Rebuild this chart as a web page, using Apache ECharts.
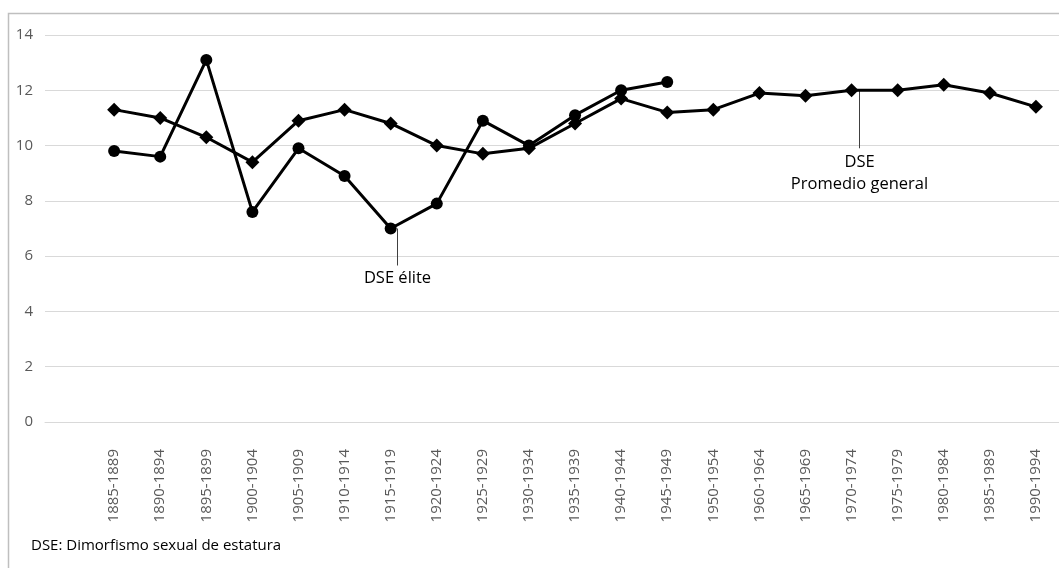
<!DOCTYPE html>
<html>
<head>
<meta charset="utf-8">
<script src="https://cdn.jsdelivr.net/npm/echarts@6/dist/echarts.min.js"></script>
<style>
  html, body { margin: 0; padding: 0; background: #fff; }
  #chart { width: 1059px; height: 568px; }
</style>
</head>
<body>
<div id="chart"></div>
<script>
// Five-year birth cohorts (1955-1959 is not part of the series)
const periods = [
  '1885-1889', '1890-1894', '1895-1899', '1900-1904', '1905-1909',
  '1910-1914', '1915-1919', '1920-1924', '1925-1929', '1930-1934',
  '1935-1939', '1940-1944', '1945-1949', '1950-1954', '1960-1964',
  '1965-1969', '1970-1974', '1975-1979', '1980-1984', '1985-1989',
  '1990-1994'
];

// Sexual stature dimorphism, general average
const dsePromedio = [
  11.3, 11.0, 10.3, 9.4, 10.9, 11.3, 10.8, 10.0, 9.7, 9.9,
  10.8, 11.7, 11.2, 11.3, 11.9, 11.8, 12.0, 12.0, 12.2, 11.9,
  11.4
];

// Sexual stature dimorphism, elite group
const dseElite = [
  9.8, 9.6, 13.1, 7.6, 9.9, 8.9, 7.0, 7.9, 10.9, 10.0,
  11.1, 12.0, 12.3, null, null, null, null, null, null, null,
  null
];

const yTicks = { min: 0, max: 14, interval: 2 };

// One empty slot ahead of the first cohort leaves room at the left of the plot
const axisData = [''].concat(periods);
const padded = arr => [null].concat(arr);

const FONT = '"Open Sans", "Noto Sans", sans-serif';

const chart = echarts.init(document.getElementById('chart'), null, { renderer: 'canvas' });

const option = {
  animation: false,
  backgroundColor: '#ffffff',
  grid: { left: 45, right: -3.5, top: 35, bottom: 146, containLabel: false },
  xAxis: {
    type: 'category',
    data: axisData,
    boundaryGap: true,
    axisLine: { show: true, lineStyle: { color: '#d9d9d9', width: 1 } },
    axisTick: { show: false },
    axisLabel: {
      rotate: 90,
      interval: 0,
      margin: 27,
      color: '#595959',
      fontFamily: FONT,
      fontSize: 15
    },
    splitLine: { show: false }
  },
  yAxis: {
    type: 'value',
    min: yTicks.min,
    max: yTicks.max,
    interval: yTicks.interval,
    axisLine: { show: false },
    axisTick: { show: false },
    axisLabel: { margin: 12, color: '#595959', fontFamily: FONT, fontSize: 15 },
    splitLine: { show: true, lineStyle: { color: '#d9d9d9', width: 1 } }
  },
  series: [
    {
      name: 'DSE Promedio general',
      type: 'line',
      data: padded(dsePromedio),
      symbol: 'diamond',
      symbolSize: 14,
      connectNulls: false,
      lineStyle: { color: '#000', width: 3 },
      itemStyle: { color: '#000' },
      z: 3
    },
    {
      name: 'DSE élite',
      type: 'line',
      data: padded(dseElite),
      symbol: 'circle',
      symbolSize: 12,
      connectNulls: false,
      lineStyle: { color: '#000', width: 3 },
      itemStyle: { color: '#000' },
      z: 4
    }
  ]
};

chart.setOption(option);

// Callout lines and labels anchored on data points
const elitePt = chart.convertToPixel({ seriesIndex: 1 }, [periods.indexOf('1915-1919') + 1, dseElite[6]]);
const promPt = chart.convertToPixel({ seriesIndex: 0 }, [periods.indexOf('1970-1974') + 1, dsePromedio[16]]);

const ex = Math.round(elitePt[0] + 6) + 0.5;
const px = Math.round(promPt[0] + 7.5) + 0.5;
const NOTE_FONT = '16.5px ' + FONT;

chart.setOption({
  graphic: [
    {
      type: 'rect',
      silent: true,
      shape: { x: 8.5, y: 13.5, width: 1200, height: 700 },
      style: { fill: 'none', stroke: '#bfbfbf', lineWidth: 1.5 },
      z: -10
    },
    {
      type: 'line',
      silent: true,
      shape: { x1: ex, y1: elitePt[1], x2: ex, y2: elitePt[1] + 37 },
      style: { stroke: '#404040', lineWidth: 1 },
      z: 1
    },
    {
      type: 'text',
      silent: true,
      x: ex,
      y: elitePt[1] + 50,
      style: {
        text: 'DSE élite', fill: '#000', font: NOTE_FONT,
        align: 'center', verticalAlign: 'middle'
      }
    },
    {
      type: 'line',
      silent: true,
      shape: { x1: px, y1: promPt[1], x2: px, y2: promPt[1] + 58 },
      style: { stroke: '#404040', lineWidth: 1 },
      z: 1
    },
    {
      type: 'text',
      silent: true,
      x: px,
      y: promPt[1] + 72,
      style: {
        text: 'DSE', fill: '#000', font: NOTE_FONT,
        align: 'center', verticalAlign: 'middle'
      }
    },
    {
      type: 'text',
      silent: true,
      x: px,
      y: promPt[1] + 94,
      style: {
        text: 'Promedio general', fill: '#000', font: NOTE_FONT,
        align: 'center', verticalAlign: 'middle'
      }
    },
    {
      type: 'text',
      silent: true,
      left: 31,
      top: 538,
      style: {
        text: 'DSE: Dimorfismo sexual de estatura', fill: '#000', font: '15px ' + FONT
      }
    }
  ]
});
</script>
</body>
</html>
